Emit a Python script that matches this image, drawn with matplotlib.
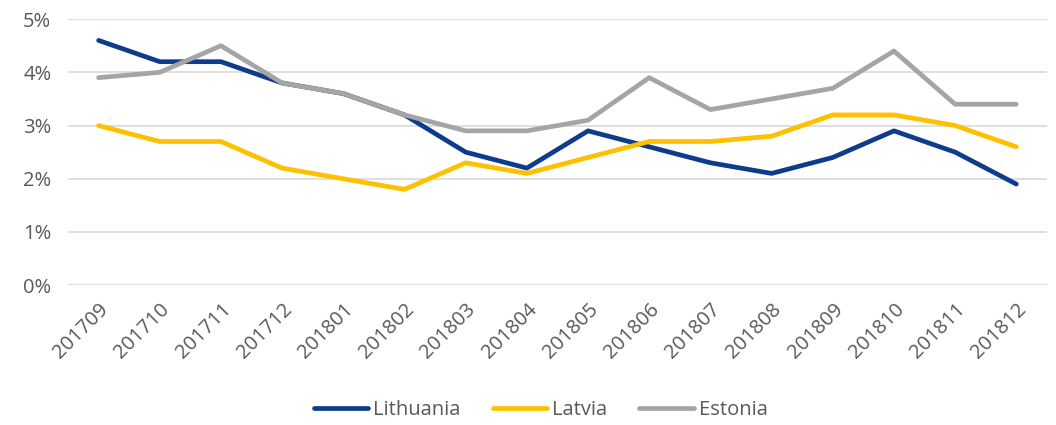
import matplotlib
matplotlib.use('Agg')
import matplotlib.pyplot as plt
from matplotlib.ticker import FuncFormatter

months = ['201709', '201710', '201711', '201712', '201801', '201802', '201803', '201804',
          '201805', '201806', '201807', '201808', '201809', '201810', '201811', '201812']
lithuania = [4.6, 4.2, 4.2, 3.8, 3.6, 3.2, 2.5, 2.2, 2.9, 2.6, 2.3, 2.1, 2.4, 2.9, 2.5, 1.9]
latvia = [3.0, 2.7, 2.7, 2.2, 2.0, 1.8, 2.3, 2.1, 2.4, 2.7, 2.7, 2.8, 3.2, 3.2, 3.0, 2.6]
estonia = [3.9, 4.0, 4.5, 3.8, 3.6, 3.2, 2.9, 2.9, 3.1, 3.9, 3.3, 3.5, 3.7, 4.4, 3.4, 3.4]

plt.rcParams['font.family'] = ['Open Sans', 'DejaVu Sans']
text_color = '#595959'

fig = plt.figure(figsize=(10.56, 4.25), dpi=100)
ax = fig.add_axes([0.0644, 0.329, 0.927, 0.626])

x = range(len(months))
ax.plot(x, lithuania, color='#0E3C8C', lw=3.4, label='Lithuania', solid_capstyle='round', zorder=3)
ax.plot(x, latvia, color='#FFC000', lw=3.4, label='Latvia', solid_capstyle='round', zorder=3)
ax.plot(x, estonia, color='#A5A5A5', lw=3.4, label='Estonia', solid_capstyle='round', zorder=4)

ax.set_xlim(-0.5, len(months) - 0.5)
ax.set_ylim(0, 5)
ax.set_yticks(range(6))
ax.yaxis.set_major_formatter(FuncFormatter(lambda v, p: f'{int(v)}%'))
ax.set_xticks(list(x))
ax.set_xticklabels(months, rotation=45, ha='right', rotation_mode='anchor')

ax.grid(axis='y', color='#D9D9D9', lw=1.2)
ax.set_axisbelow(True)
for s in ax.spines.values():
    s.set_visible(False)
ax.tick_params(axis='both', length=0, labelsize=14.5, labelcolor=text_color)
ax.tick_params(axis='x', pad=10)
ax.tick_params(axis='y', pad=12)

fig.legend(loc='center', bbox_to_anchor=(0.512, 0.035), ncol=3, frameon=False,
           fontsize=14.5, labelcolor=text_color, handlelength=2.7, handletextpad=0.25,
           columnspacing=1.6)

fig.savefig('out.png', dpi=100)
